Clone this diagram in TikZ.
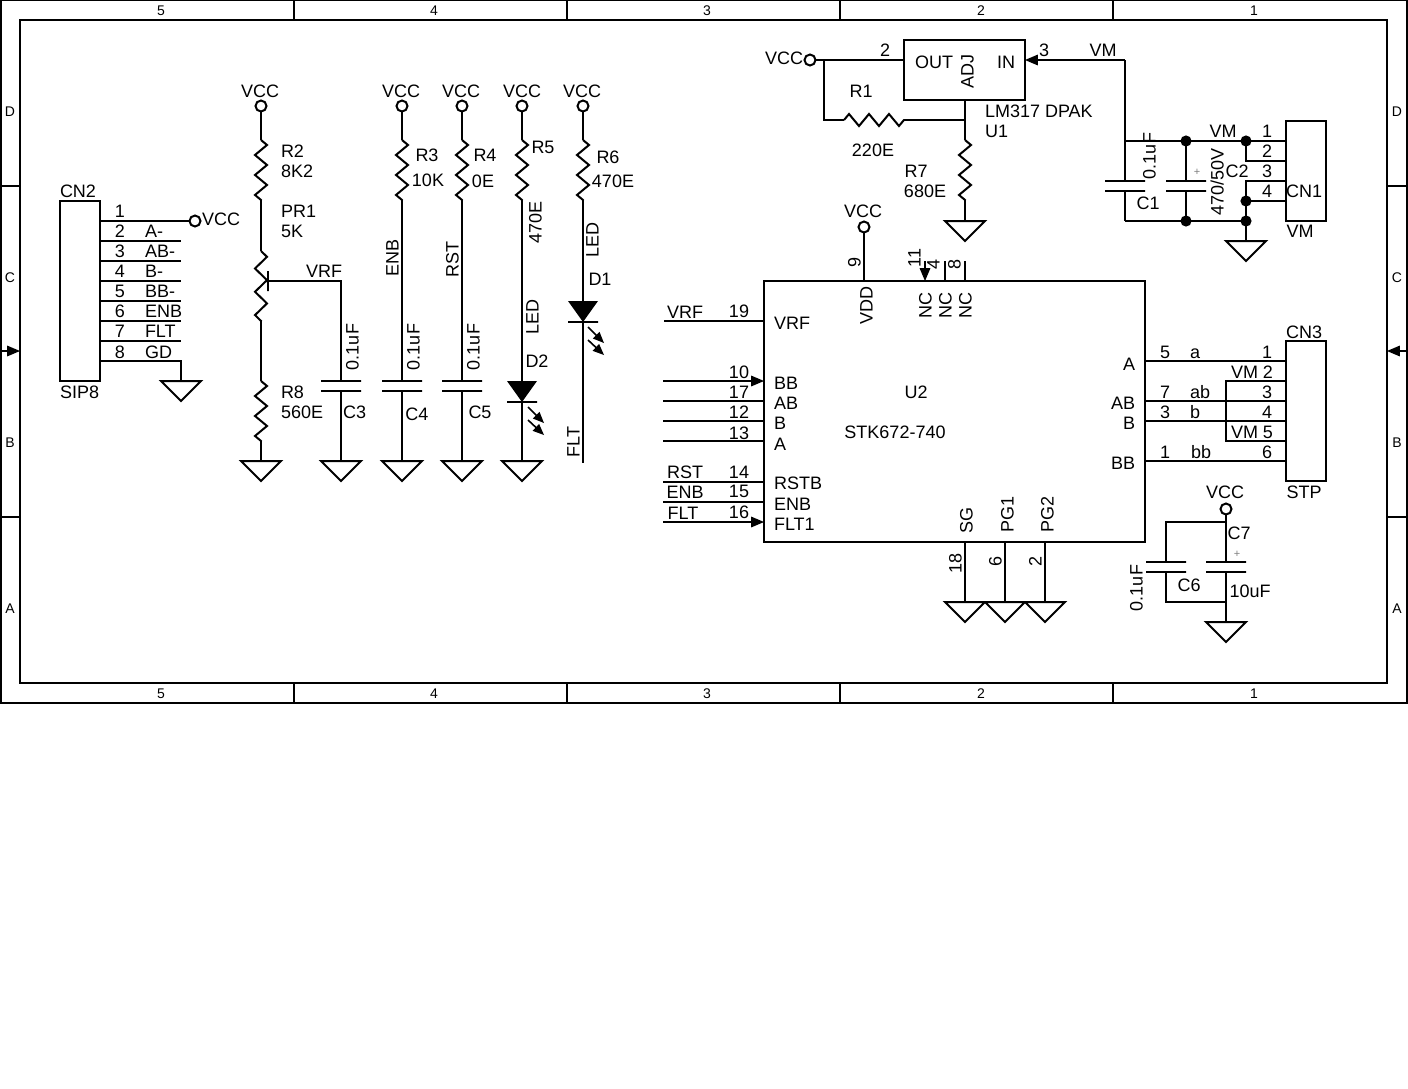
\documentclass[tikz,border=0pt]{standalone}
\usepackage{fontspec}
\setmainfont{Liberation Sans}
\usetikzlibrary{arrows,positioning,shapes.geometric,decorations.pathmorphing}
\tikzstyle{every node}=[font=\fontsize{18}{20}\selectfont, inner sep=0pt, outer sep=0pt, text height=13pt, text depth=0pt]
\tikzstyle{txt}=[anchor=west]
\tikzstyle{sideways}=[rotate=90]
\tikzstyle{chip}=[rectangle, draw=black, anchor=north west]
\tikzstyle{terminal}=[circle, draw=black, fill=white, minimum size=11pt, text height=0pt]
\tikzstyle{junction}=[circle, draw=black, fill=black, minimum size=9pt, text height=0pt]
\tikzstyle{ground}=[isosceles triangle, isosceles triangle apex angle=90, isosceles triangle stretches, shape border rotate=-90, draw=black, minimum width=40pt, minimum height=20pt, anchor=lower side, text height=0pt]
\tikzstyle{led}=[isosceles triangle, isosceles triangle apex angle=70, isosceles triangle stretches, shape border rotate=-90, fill=black, minimum width=30pt, minimum height=21pt, anchor=lower side, text height=0pt]
\tikzstyle{plate}=[rectangle, draw=black, minimum width=40pt, minimum height=0pt, text height=0pt]
\tikzstyle{resistor}=[decorate, decoration={zigzag, segment length=19.99pt, amplitude=6pt}]
\tikzstyle{pot}=[decorate, decoration={zigzag, segment length=23.3pt, amplitude=6pt}]
\tikzstyle{glow}=[->, line width=1.6pt]
\tikzstyle{plus}=[font=\fontsize{11}{12}\selectfont, text=gray, text height=8pt]
\tikzstyle{margin}=[font=\fontsize{14}{16}\selectfont, text height=10pt]

\begin{document}
\begin{tikzpicture}[x=1pt, y=-1pt, line width=2pt, >=triangle 45]
		\useasboundingbox (0,0) rectangle (1408,1088);
		
		\draw (1,0) rectangle (1407,703);
		\draw (20,20) rectangle (1387,683);
		
		\draw (294,0) -- (294,20);
		\draw (567,0) -- (567,20);
		\draw (840,0) -- (840,20);
		\draw (1113,0) -- (1113,20);
		\draw (294,683) -- (294,703);
		\draw (567,683) -- (567,703);
		\draw (840,683) -- (840,703);
		\draw (1113,683) -- (1113,703);
		\draw (1,186) -- (20,186);
		\draw (1,517) -- (20,517);
		\draw (1387,186) -- (1407,186);
		\draw (1387,517) -- (1407,517);
		\draw[->] (1,351) -- (20,351);
		\draw[->] (1407,351) -- (1387,351);
		
		\node[margin] at (161,10) (top5) {5};
		\node[margin] at (434,10) (top4) {4};
		\node[margin] at (707,10) (top3) {3};
		\node[margin] at (981,10) (top2) {2};
		\node[margin] at (1254,10) (top1) {1};
		\node[margin] at (161,693) (bot5) {5};
		\node[margin] at (434,693) (bot4) {4};
		\node[margin] at (707,693) (bot3) {3};
		\node[margin] at (981,693) (bot2) {2};
		\node[margin] at (1254,693) (bot1) {1};
		\node[margin] at (10,111) (leftD) {D};
		\node[margin] at (10,277) (leftC) {C};
		\node[margin] at (10,442) (leftB) {B};
		\node[margin] at (10,608) (leftA) {A};
		\node[margin] at (1397,111) (rightD) {D};
		\node[margin] at (1397,277) (rightC) {C};
		\node[margin] at (1397,442) (rightB) {B};
		\node[margin] at (1397,608) (rightA) {A};
		
		% CN2
		\node[chip, minimum width=40pt, minimum height=180pt] at (60,201) (cn2) {};
		\node[txt] at (60,191) (cn2ref) {CN2};
		\node[txt] at (60,392) (cn2val) {SIP8};
		\node[terminal] at (195,221) (vcc0) {};
		\node[txt] at (202,219) (vcc0txt) {VCC};
		\node[ground] at (181,381) (gnd0) {};
		\coordinate (cn2a1) at (100,221);
		\coordinate (cn2a2) at (100,241);
		\coordinate (cn2b2) at (181,241);
		\coordinate (cn2a3) at (100,261);
		\coordinate (cn2b3) at (181,261);
		\coordinate (cn2a4) at (100,281);
		\coordinate (cn2b4) at (181,281);
		\coordinate (cn2a5) at (100,301);
		\coordinate (cn2b5) at (181,301);
		\coordinate (cn2a6) at (100,321);
		\coordinate (cn2b6) at (181,321);
		\coordinate (cn2a7) at (100,341);
		\coordinate (cn2b7) at (181,341);
		\coordinate (cn2a8) at (100,361);
		\coordinate (cn2b8) at (181,361);
		\path (cn2a1) edge (vcc0);
		\path (cn2a2) edge (cn2b2);
		\path (cn2a3) edge (cn2b3);
		\path (cn2a4) edge (cn2b4);
		\path (cn2a5) edge (cn2b5);
		\path (cn2a6) edge (cn2b6);
		\path (cn2a7) edge (cn2b7);
		\draw (cn2a8) -- (cn2b8) -- (gnd0.lower side);
		\node at (120,211) (n1) {1};
		\node at (120,231) (n2) {2};
		\node at (120,251) (n3) {3};
		\node at (120,271) (n4) {4};
		\node at (120,291) (n5) {5};
		\node at (120,311) (n6) {6};
		\node at (120,331) (n7) {7};
		\node at (120,352) (n8) {8};
		\node[txt] at (145,231) (s2) {A-};
		\node[txt] at (145,251) (s3) {AB-};
		\node[txt] at (145,271) (s4) {B-};
		\node[txt] at (145,291) (s5) {BB-};
		\node[txt] at (145,311) (s6) {ENB};
		\node[txt] at (145,331) (s7) {FLT};
		\node[txt] at (145,352) (s8) {GD};
		
		% R2, PR1, R8, C3
		\node[terminal] at (261,106) (vcc1) {};
		\node at (260,91) (vcc1txt) {VCC};
		\coordinate (r2a) at (261,140);
		\coordinate (r2b) at (261,200);
		\coordinate (pr1a) at (261,251);
		\coordinate (pr1b) at (261,321);
		\coordinate (r8a) at (261,381);
		\coordinate (r8b) at (261,441);
		\node[ground] at (261,461) (gnd1) {};
		\path (vcc1) edge (r2a);
		\path (r2a) edge[resistor] (r2b);
		\path (r2b) edge (pr1a);
		\path (pr1a) edge[pot] (pr1b);
		\path (pr1b) edge (r8a);
		\path (r8a) edge[resistor] (r8b);
		\path (r8b) edge (gnd1.lower side);
		\node[plate, minimum width=20pt, rotate=90] at (268,281) (wiper) {};
		\node[plate] at (341,381) (c3a) {};
		\node[plate] at (341,391) (c3b) {};
		\node[ground] at (341,461) (gnd2) {};
		\draw (wiper.center) -| (c3a.center);
		\path (c3b) edge (gnd2.lower side);
		\node[txt] at (281,151) (r2ref) {R2};
		\node[txt] at (281,171) (r2val) {8K2};
		\node[txt] at (281,211) (pr1ref) {PR1};
		\node[txt] at (281,231) (pr1val) {5K};
		\node[txt] at (306,271) (vrf1) {VRF};
		\node[txt] at (281,392) (r8ref) {R8};
		\node[txt] at (281,412) (r8val) {560E};
		\node[sideways] at (352,347) (c3val) {0.1uF};
		\node[txt] at (343,412) (c3ref) {C3};
		
		% R3, C4
		\node[terminal] at (402,106) (vcc2) {};
		\node at (401,91) (vcc2txt) {VCC};
		\coordinate (r3a) at (402,140);
		\coordinate (r3b) at (402,200);
		\node[plate] at (402,381) (c4a) {};
		\node[plate] at (402,391) (c4b) {};
		\node[ground] at (402,461) (gnd3) {};
		\path (vcc2) edge (r3a);
		\path (r3a) edge[resistor] (r3b);
		\path (r3b) edge (c4a);
		\path (c4b) edge (gnd3.lower side);
		\node at (427,155) (r3ref) {R3};
		\node at (428,180) (r3val) {10K};
		\node[sideways] at (392,258) (enb1) {ENB};
		\node[sideways] at (413,347) (c4val) {0.1uF};
		\node at (417,414) (c4ref) {C4};
		
		% R4, C5
		\node[terminal] at (462,106) (vcc3) {};
		\node at (461,91) (vcc3txt) {VCC};
		\coordinate (r4a) at (462,140);
		\coordinate (r4b) at (462,200);
		\node[plate] at (462,381) (c5a) {};
		\node[plate] at (462,391) (c5b) {};
		\node[ground] at (462,461) (gnd4) {};
		\path (vcc3) edge (r4a);
		\path (r4a) edge[resistor] (r4b);
		\path (r4b) edge (c5a);
		\path (c5b) edge (gnd4.lower side);
		\node at (485,155) (r4ref) {R4};
		\node at (483,181) (r4val) {0E};
		\node[sideways] at (452,259) (rst1) {RST};
		\node[sideways] at (473,347) (c5val) {0.1uF};
		\node at (480,412) (c5ref) {C5};
		
		% R5, D2
		\node[terminal] at (522,106) (vcc4) {};
		\node at (522,91) (vcc4txt) {VCC};
		\coordinate (r5a) at (522,140);
		\coordinate (r5b) at (522,200);
		\node[led] at (522,381) (d2) {};
		\node[plate, minimum width=30pt] at (522,402) (d2bar) {};
		\node[ground] at (522,461) (gnd5) {};
		\path (vcc4) edge (r5a);
		\path (r5a) edge[resistor] (r5b);
		\path (r5b) edge (d2.lower side);
		\path (d2bar) edge (gnd5.lower side);
		\coordinate (d2g1a) at (528,407);
		\coordinate (d2g1b) at (544,423);
		\coordinate (d2g2a) at (528,420);
		\coordinate (d2g2b) at (544,435);
		\path (d2g1a) edge[glow] (d2g1b);
		\path (d2g2a) edge[glow] (d2g2b);
		\node at (543,147) (r5ref) {R5};
		\node[sideways] at (535,222) (r5val) {470E};
		\node[sideways] at (532,317) (d2val) {LED};
		\node at (537,361) (d2ref) {D2};
		
		% R6, D1
		\node[terminal] at (583,106) (vcc5) {};
		\node at (582,91) (vcc5txt) {VCC};
		\coordinate (r6a) at (583,140);
		\coordinate (r6b) at (583,200);
		\node[led] at (583,301) (d1) {};
		\node[plate, minimum width=30pt] at (583,322) (d1bar) {};
		\coordinate (flt) at (583,463);
		\path (vcc5) edge (r6a);
		\path (r6a) edge[resistor] (r6b);
		\path (r6b) edge (d1.lower side);
		\path (d1bar) edge (flt);
		\coordinate (d1g1a) at (588,327);
		\coordinate (d1g1b) at (604,343);
		\coordinate (d1g2a) at (588,340);
		\coordinate (d1g2b) at (604,355);
		\path (d1g1a) edge[glow] (d1g1b);
		\path (d1g2a) edge[glow] (d1g2b);
		\node at (608,157) (r6ref) {R6};
		\node at (613,181) (r6val) {470E};
		\node[sideways] at (592,240) (d1val) {LED};
		\node at (600,279) (d1ref) {D1};
		\node[sideways] at (573,442) (flt1) {FLT};
		
		% U1, R1, R7
		\node[chip, minimum width=121pt, minimum height=60pt] at (904,40) (u1) {};
		\node at (934,62) (u1out) {OUT};
		\node[sideways] at (967,71) (u1adj) {ADJ};
		\node at (1006,62) (u1in) {IN};
		\node[txt] at (985,111) (u1val) {LM317 DPAK};
		\node[txt] at (985,131) (u1ref) {U1};
		\node[terminal] at (810,60) (vcc6) {};
		\node at (784,58) (vcc6txt) {VCC};
		\coordinate (u1a) at (904,60);
		\coordinate (u1b) at (824,60);
		\coordinate (r1a) at (844,120);
		\coordinate (r1b) at (904,120);
		\coordinate (r7t) at (965,120);
		\coordinate (u1c) at (965,100);
		\coordinate (r7a) at (965,140);
		\coordinate (r7b) at (965,200);
		\node[ground] at (965,221) (gnd6) {};
		\path (vcc6) edge (u1a);
		\draw (u1b) |- (r1a);
		\path (r1a) edge[resistor] (r1b);
		\path (r1b) edge (r7t);
		\path (u1c) edge (r7a);
		\path (r7a) edge[resistor] (r7b);
		\path (r7b) edge (gnd6.lower side);
		\node at (885,50) (u1p2) {2};
		\node at (1044,50) (u1p3) {3};
		\node at (1103,50) (vm1) {VM};
		\node at (861,91) (r1ref) {R1};
		\node at (873,150) (r1val) {220E};
		\node at (916,171) (r7ref) {R7};
		\node at (925,191) (r7val) {680E};
		
		% C1, C2, CN1
		\node[chip, minimum width=40pt, minimum height=100pt] at (1286,121) (cn1) {};
		\coordinate (vmt) at (1125,60);
		\coordinate (u1d) at (1025,60);
		\coordinate (vmb) at (1125,141);
		\node[plate] at (1125,181) (c1a) {};
		\node[plate] at (1125,191) (c1b) {};
		\node[plate] at (1186,181) (c2a) {};
		\node[plate] at (1186,191) (c2b) {};
		\coordinate (c1g) at (1125,221);
		\node[junction] at (1186,141) (j1) {};
		\node[junction] at (1246,141) (j2) {};
		\node[junction] at (1186,221) (j3) {};
		\node[junction] at (1246,221) (j4) {};
		\node[junction] at (1246,201) (j5) {};
		\coordinate (cn1a1) at (1286,141);
		\coordinate (cn1a2) at (1286,161);
		\coordinate (cn1a3) at (1286,181);
		\coordinate (cn1a4) at (1286,201);
		\node[ground] at (1246,241) (gnd7) {};
		\draw[->] (vmt) -- (u1d);
		\path (vmt) edge (c1a);
		\path (c1b) edge (c1g);
		\draw (vmb) -- (cn1a1);
		\draw (c1g) -- (j4.center);
		\path (j1) edge (c2a);
		\path (c2b) edge (j3);
		\draw (j2.center) |- (cn1a2);
		\draw (cn1a3) -| (gnd7.lower side);
		\path (j5) edge (cn1a4);
		\node at (1223,131) (vm2) {VM};
		\node at (1267,131) (cn1p1) {1};
		\node at (1267,151) (cn1p2) {2};
		\node at (1267,171) (cn1p3) {3};
		\node at (1267,191) (cn1p4) {4};
		\node at (1304,191) (cn1ref) {CN1};
		\node at (1300,231) (cn1val) {VM};
		\node at (1237,171) (c2ref) {C2};
		\node[sideways] at (1217,182) (c2val) {470/50V};
		\node[plus] at (1197,171) (c2pl) {+};
		\node[sideways] at (1149,156) (c1val) {0.1uF};
		\node at (1148,203) (c1ref) {C1};
		
		% U2
		\node[chip, minimum width=381pt, minimum height=261pt] at (764,281) (u2) {};
		\node at (916,392) (u2ref) {U2};
		\node at (895,432) (u2val) {STK672-740};
		\node[terminal] at (864,227) (vcc7) {};
		\node at (863,211) (vcc7txt) {VCC};
		\coordinate (u2t9) at (864,281);
		\path (vcc7) edge (u2t9);
		\coordinate (u2t11) at (925,281);
		\coordinate (u2s11) at (925,261);
		\coordinate (u2t4) at (945,281);
		\coordinate (u2s4) at (945,261);
		\coordinate (u2t8) at (965,281);
		\coordinate (u2s8) at (965,261);
		\draw[->] (u2s11) -- (u2t11);
		\path (u2s4) edge (u2t4);
		\path (u2s8) edge (u2t8);
		\node[sideways] at (854,262) (p9) {9};
		\node[sideways] at (866,305) (vdd) {VDD};
		\node[sideways] at (914,258) (p11) {11};
		\node[sideways] at (933,264) (p4) {4};
		\node[sideways] at (954,264) (p8) {8};
		\node[sideways] at (925,305) (nc1) {NC};
		\node[sideways] at (945,305) (nc2) {NC};
		\node[sideways] at (965,305) (nc3) {NC};
		
		\coordinate (u2l19) at (764,321);
		\coordinate (w19) at (664,321);
		\coordinate (u2l10) at (764,381);
		\coordinate (w10) at (663,381);
		\coordinate (u2l17) at (764,401);
		\coordinate (w17) at (663,401);
		\coordinate (u2l12) at (764,421);
		\coordinate (w12) at (663,421);
		\coordinate (u2l13) at (764,441);
		\coordinate (w13) at (663,441);
		\coordinate (u2l14) at (764,482);
		\coordinate (w14) at (663,482);
		\coordinate (u2l15) at (764,502);
		\coordinate (w15) at (663,502);
		\coordinate (u2l16) at (764,522);
		\coordinate (w16) at (663,522);
		\path (w19) edge (u2l19);
		\draw[->] (w10) -- (u2l10);
		\path (w17) edge (u2l17);
		\path (w12) edge (u2l12);
		\path (w13) edge (u2l13);
		\path (w14) edge (u2l14);
		\path (w15) edge (u2l15);
		\draw[->] (w16) -- (u2l16);
		\node at (685,312) (vrf2) {VRF};
		\node at (739,311) (p19) {19};
		\node at (739,372) (p10) {10};
		\node at (739,392) (p17) {17};
		\node at (739,412) (p12) {12};
		\node at (739,433) (p13) {13};
		\node at (685,472) (rst2) {RST};
		\node at (739,472) (p14) {14};
		\node at (685,492) (enb2) {ENB};
		\node at (739,491) (p15) {15};
		\node at (683,513) (flt2) {FLT};
		\node at (739,512) (p16) {16};
		\node[txt] at (774,323) (i1) {VRF};
		\node[txt] at (774,383) (i2) {BB};
		\node[txt] at (774,403) (i3) {AB};
		\node[txt] at (774,423) (i4) {B};
		\node[txt] at (774,444) (i5) {A};
		\node[txt] at (774,483) (i6) {RSTB};
		\node[txt] at (774,504) (i7) {ENB};
		\node[txt] at (774,524) (i8) {FLT1};
		
		\coordinate (u2b18) at (965,542);
		\coordinate (u2b6) at (1005,542);
		\coordinate (u2b2) at (1045,542);
		\node[ground] at (965,602) (gnd8) {};
		\node[ground] at (1005,602) (gnd9) {};
		\node[ground] at (1045,602) (gnd10) {};
		\path (u2b18) edge (gnd8.lower side);
		\path (u2b6) edge (gnd9.lower side);
		\path (u2b2) edge (gnd10.lower side);
		\node[sideways] at (966,520) (sg) {SG};
		\node[sideways] at (1007,514) (pg1) {PG1};
		\node[sideways] at (1047,514) (pg2) {PG2};
		\node[sideways] at (955,563) (p18) {18};
		\node[sideways] at (995,561) (p6) {6};
		\node[sideways] at (1035,561) (p2) {2};
		
		% CN3
		\node[chip, minimum width=40pt, minimum height=140pt] at (1286,341) (cn3) {};
		\node at (1304,332) (cn3ref) {CN3};
		\node at (1304,492) (cn3val) {STP};
		\coordinate (u2r5) at (1145,361);
		\coordinate (cn3a1) at (1286,361);
		\coordinate (u2r7) at (1145,401);
		\coordinate (cn3a3) at (1286,401);
		\coordinate (u2r3) at (1145,421);
		\coordinate (cn3a4) at (1286,421);
		\coordinate (u2r1) at (1145,461);
		\coordinate (cn3a6) at (1286,461);
		\coordinate (cn3a2) at (1286,381);
		\coordinate (vm3) at (1226,381);
		\coordinate (vm4) at (1226,441);
		\coordinate (cn3a5) at (1286,441);
		\path (u2r5) edge (cn3a1);
		\path (u2r7) edge (cn3a3);
		\path (u2r3) edge (cn3a4);
		\path (u2r1) edge (cn3a6);
		\draw (cn3a2) -- (vm3) -- (vm4) -- (cn3a5);
		\node at (1129,364) (r1) {A};
		\node at (1123,403) (r2) {AB};
		\node at (1129,423) (r3) {B};
		\node at (1123,463) (r4) {BB};
		\node at (1165,352) (p5) {5};
		\node at (1195,352) (sa) {a};
		\node at (1165,392) (p7) {7};
		\node at (1200,392) (sab) {ab};
		\node at (1165,412) (p3) {3};
		\node at (1195,412) (sb) {b};
		\node at (1165,452) (p1) {1};
		\node at (1201,452) (sbb) {bb};
		\node at (1267,352) (cn3p1) {1};
		\node[anchor=east] at (1273,372) (cn3p2) {VM 2};
		\node at (1267,392) (cn3p3) {3};
		\node at (1267,412) (cn3p4) {4};
		\node[anchor=east] at (1273,432) (cn3p5) {VM 5};
		\node at (1267,452) (cn3p6) {6};
		
		% C6, C7
		\node[terminal] at (1226,509) (vcc8) {};
		\node at (1225,492) (vcc8txt) {VCC};
		\coordinate (c7t) at (1226,522);
		\node[plate] at (1166,562) (c6a) {};
		\node[plate] at (1166,572) (c6b) {};
		\node[plate] at (1226,562) (c7a) {};
		\node[plate] at (1226,572) (c7b) {};
		\coordinate (c7g) at (1226,602);
		\node[ground] at (1226,622) (gnd11) {};
		\path (vcc8) edge (c7a);
		\draw (c7t) -| (c6a.center);
		\path (c7b) edge (gnd11.lower side);
		\draw (c6b.center) |- (c7g);
		\node at (1239,533) (c7ref) {C7};
		\node[plus] at (1237,553) (c7pl) {+};
		\node at (1250,591) (c7val) {10uF};
		\node at (1189,585) (c6ref) {C6};
		\node[sideways] at (1136,588) (c6val) {0.1uF};
		
		\end{tikzpicture}
\end{document}
